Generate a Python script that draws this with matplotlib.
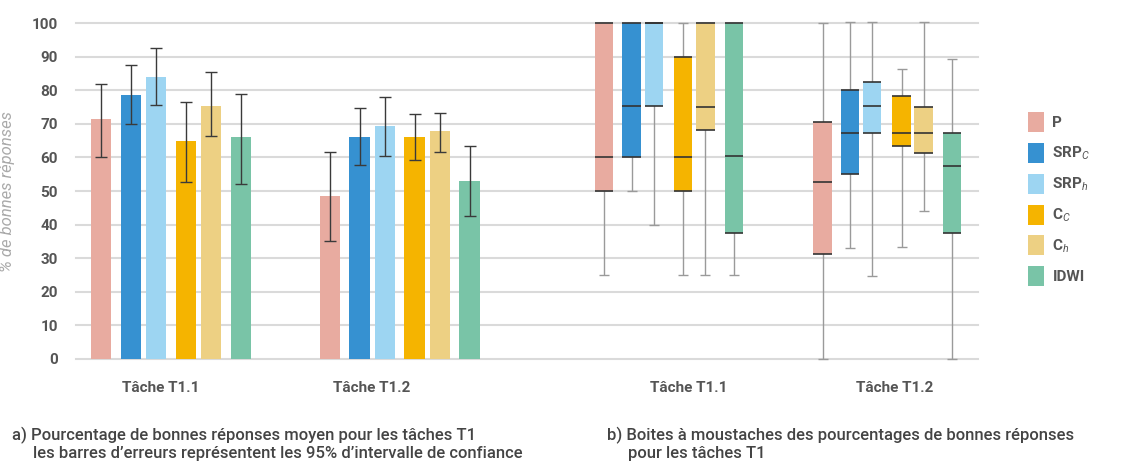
import numpy as np
import matplotlib
matplotlib.use("Agg")
import matplotlib.pyplot as plt
from matplotlib.patches import Patch

plt.rcParams['font.family'] = ['Roboto', 'DejaVu Sans']
plt.rcParams['mathtext.fontset'] = 'custom'
plt.rcParams['mathtext.rm'] = 'Roboto'
plt.rcParams['mathtext.it'] = 'Roboto:italic'

# ---------------- donnees ----------------
methodes = ['P', 'SRP$_C$', 'SRP$_h$', 'C$_C$', 'C$_h$', 'IDWI']
couleurs = ['#E8ABA0', '#3691D1', '#9DD5F2', '#F5B400', '#EDD083', '#79C4A7']
taches = ['Tâche T1.1', 'Tâche T1.2']

# a) moyennes et intervalles de confiance 95%
moy_t11 = [71.4, 78.7, 84.0, 64.9, 75.3, 66.1]
bas_t11 = [60.2, 69.9, 75.5, 52.6, 66.5, 52.2]
haut_t11 = [81.8, 87.6, 92.5, 76.6, 85.5, 78.8]
moy_t12 = [48.4, 66.1, 69.4, 66.1, 67.9, 53.0]
bas_t12 = [35.2, 57.9, 60.3, 59.3, 61.5, 42.6]
haut_t12 = [61.7, 74.6, 77.9, 73.0, 73.4, 63.3]

# b) boites a moustaches : min, q1, mediane, q3, max
min_t11 = [25, 50, 40, 25, 25, 25]
q1_t11 = [50, 60, 75.2, 50, 68.1, 37.6]
med_t11 = [60.2, 75.2, 100, 60.2, 75.1, 60.3]
q3_t11 = [100, 100, 100, 90, 100, 100]
max_t11 = [100, 100, 100, 100, 100, 100]

min_t12 = [0, 33.1, 24.8, 33.2, 44.1, 0]
q1_t12 = [31.3, 55.2, 67.4, 63.4, 61.2, 37.5]
med_t12 = [52.7, 67.2, 75.2, 67.2, 67.2, 57.4]
q3_t12 = [70.6, 80, 82.6, 78.3, 75.1, 67.2]
max_t12 = [100, 100.3, 100.3, 86.3, 100.3, 89.3]

# ---------------- mise en page ----------------
W, H = 1136, 461
fig = plt.figure(figsize=(W / 100, H / 100), dpi=100)
ax_g, ax_d, ax_h, ax_b = 76, 978, 23.3, 358.7
ax = fig.add_axes([ax_g / W, 1 - ax_b / H, (ax_d - ax_g) / W, (ax_b - ax_h) / H])
ax.set_xlim(ax_g, ax_d)
ax.set_ylim(0, 100)

decal_barres = np.array([0, 29.7, 55.2, 84.8, 110.3, 139.7])
decal_boites = np.array([0, 27.4, 49.7, 79.0, 101.1, 129.7])
debut = [101, 329.8, 604.2, 822.5]
larg_barre = 20.3
larg_boite = 18.5

# grille
ax.set_yticks(np.arange(0, 101, 10))
for v in np.arange(0, 101, 10):
    ax.axhline(v, color='#DADADA', lw=1.5, zorder=0, clip_on=False)
for s in ax.spines.values():
    s.set_visible(False)
ax.tick_params(axis='y', length=0, pad=13, labelsize=11, labelcolor='#555555')
ax.tick_params(axis='x', length=0)
for t in ax.get_yticklabels():
    t.set_fontweight('bold')

# a) barres
for g, (moy, bas, haut) in enumerate([(moy_t11, bas_t11, haut_t11),
                                      (moy_t12, bas_t12, haut_t12)]):
    x = debut[g] + decal_barres
    moy = np.array(moy)
    err = [moy - np.array(bas), np.array(haut) - moy]
    ax.bar(x, moy, width=larg_barre, color=couleurs, zorder=2)
    ax.errorbar(x, moy, yerr=err, fmt='none', ecolor='#3a3a3a', elinewidth=1,
                capsize=4, capthick=1, zorder=3)

# b) boites a moustaches
for g, (mn, q1, med, q3, mx) in enumerate([(min_t11, q1_t11, med_t11, q3_t11, max_t11),
                                           (min_t12, q1_t12, med_t12, q3_t12, max_t12)]):
    x = debut[g + 2] + decal_boites
    mn, q1, med, q3, mx = map(np.array, (mn, q1, med, q3, mx))
    ax.vlines(x, mn, mx, color='#9a9a9a', lw=1, zorder=2, clip_on=False)
    ax.hlines(np.concatenate([mn, mx]), np.tile(x - 5, 2), np.tile(x + 5, 2),
              color='#9a9a9a', lw=1, zorder=2, clip_on=False)
    ax.bar(x, q3 - q1, bottom=q1, width=larg_boite, color=couleurs, zorder=3, clip_on=False)
    ax.hlines(np.concatenate([q1, q3, med]),
              np.tile(x - larg_boite / 2, 3), np.tile(x + larg_boite / 2, 3),
              color='#333333', lw=1.2, zorder=4, clip_on=False)

# etiquettes des categories
pos_lab = [161, 372, 689, 895]
ax.set_xticks(pos_lab)
ax.set_xticklabels(taches + taches, fontsize=11, fontweight='bold', color='#555555')
ax.tick_params(axis='x', pad=16)

ax.set_ylabel('% de bonnes réponses', fontsize=12, style='italic',
              color='#AAAAAA', labelpad=12)

# legende
poignees = [Patch(facecolor=c, edgecolor='none') for c in couleurs]
leg = fig.legend(poignees, methodes, loc='upper left',
                 bbox_to_anchor=(1020 / W, 1 - 104.5 / H), frameon=False,
                 borderpad=0, handlelength=1.07, handleheight=1.636, labelspacing=0.71,
                 handletextpad=0.55, fontsize=11)
for t in leg.get_texts():
    t.set_color('#555555')
    t.set_fontweight('bold')

# legendes des sous-figures
cap = dict(fontsize=12, color='#444444', va='center', fontweight='medium')
fig.text(12 / W, 1 - 435 / H, 'a) Pourcentage de bonnes réponses moyen pour les tâches T1', **cap)
fig.text(33 / W, 1 - 453 / H, 'les barres d\u2019erreurs représentent les 95% d\u2019intervalle de confiance', **cap)
fig.text(607 / W, 1 - 435 / H, 'b) Boites à moustaches des pourcentages de bonnes réponses', **cap)
fig.text(628 / W, 1 - 453 / H, 'pour les tâches T1', **cap)

fig.savefig('out.png', dpi=100)
